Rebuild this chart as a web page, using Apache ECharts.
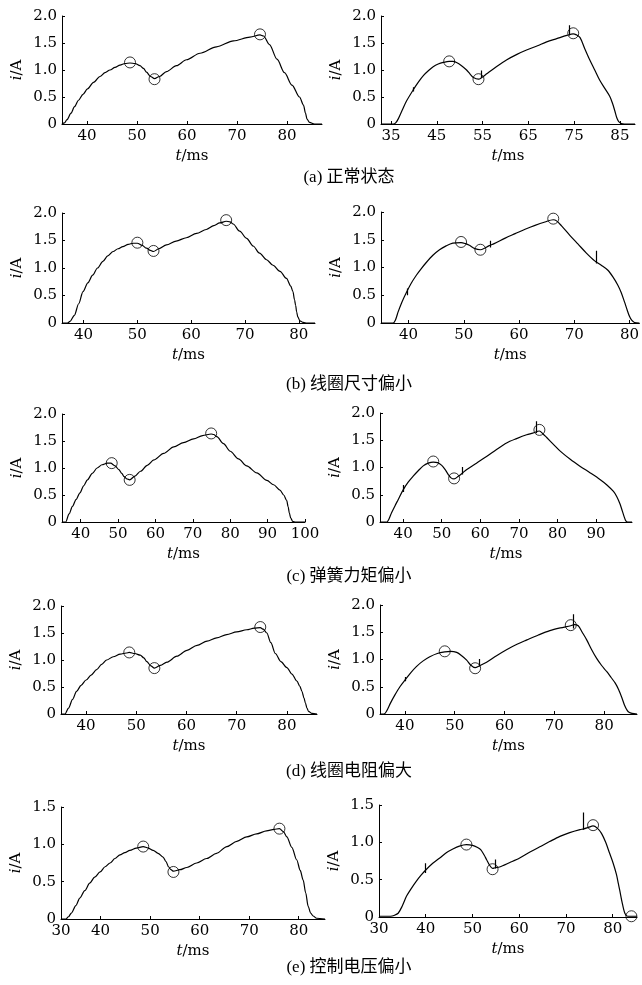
<!DOCTYPE html>
<html>
<head>
<meta charset="utf-8">
<script src="https://cdn.jsdelivr.net/npm/echarts@6/dist/echarts.min.js"></script>
<style>
html, body { margin: 0; padding: 0; background: #fff; }
#main { width: 642px; height: 985px; }
</style>
</head>
<body>
<div id="main"></div>
<script>
// (a) 正常状态
const curveA1 = [[35,0],[35.5,0.02],[36,0.08],[36.8,0.2],[37.5,0.32],[38.3,0.44],[39.2,0.55],[40.1,0.65],[41.3,0.77],[42.6,0.88],[43.6,0.95],[44.6,1.0],[45.6,1.05],[46.6,1.09],[47.6,1.12],[48.6,1.13],[49.6,1.12],[50.6,1.08],[51.3,1.03],[51.9,0.96],[52.7,0.88],[53.5,0.84],[54.5,0.88],[55.9,0.97],[57.9,1.08],[59.9,1.19],[62.6,1.31],[65.9,1.43],[69.3,1.54],[72.6,1.61],[74.6,1.65],[75.3,1.63],[76.5,1.47],[78,1.2],[79.5,0.95],[81,0.72],[82.5,0.5],[83.3,0.35],[83.7,0.2],[84,0.09],[84.5,0.03],[85.5,0],[87,0]];
const circlesA1 = [[48.6,1.14],[53.5,0.83],[74.6,1.66]];
const curveA2 = [[32.8,0],[35.5,0],[36,0.02],[36.6,0.1],[37.4,0.25],[38.4,0.43],[39.9,0.64],[41,0.78],[42.1,0.9],[43.2,0.99],[44.2,1.06],[45.3,1.11],[46.4,1.14],[47.7,1.16],[48.5,1.16],[49.3,1.14],[50.4,1.08],[51.5,1.0],[52.3,0.92],[53,0.86],[54.1,0.83],[54.8,0.86],[55.9,0.93],[58,1.06],[60.3,1.19],[62.5,1.29],[64.6,1.37],[67,1.45],[69,1.52],[71.2,1.58],[73.4,1.64],[74.8,1.67],[75.5,1.65],[76.3,1.6],[77.3,1.4],[78.4,1.19],[79.5,1.0],[80.6,0.81],[81.7,0.66],[82.8,0.51],[83.4,0.38],[83.9,0.24],[84.3,0.12],[84.7,0.05],[85.3,0.01],[86,0],[88.3,0]];
const circlesA2 = [[47.7,1.16],[54.1,0.83],[74.8,1.68]];
const spikesA2 = [[39.9,0.6,0.68],[54.8,0.85,0.99],[73.9,1.64,1.83]];
const ticksA1 = [40,50,60,70,80];
const ticksA2 = [35,45,55,65,75,85];

// (b) 线圈尺寸偏小
const curveB1 = [[36,0],[37,0],[37.5,0.03],[38.3,0.14],[39.1,0.35],[39.9,0.57],[40.8,0.73],[41.7,0.87],[42.6,1.0],[43.6,1.12],[44.5,1.22],[45.5,1.3],[46.4,1.35],[47.3,1.39],[48.3,1.43],[49.2,1.45],[50,1.45],[50.9,1.41],[51.7,1.36],[52.4,1.32],[53,1.3],[54,1.35],[55.4,1.42],[57.2,1.49],[59.1,1.55],[61,1.63],[62.8,1.7],[64.2,1.77],[65.3,1.82],[66.5,1.85],[67.2,1.84],[67.8,1.8],[69,1.67],[70.3,1.54],[71.5,1.4],[72.7,1.27],[74,1.15],[75.2,1.05],[76.5,0.94],[77.7,0.81],[78.5,0.67],[78.9,0.57],[79.2,0.42],[79.4,0.32],[79.6,0.2],[79.8,0.11],[80.2,0.04],[80.8,0.01],[81.5,0],[83,0]];
const circlesB1 = [[50,1.46],[53,1.31],[66.5,1.87]];
const curveB2 = [[35,0],[37.2,0],[37.6,0.05],[38.1,0.2],[38.8,0.38],[39.6,0.55],[40.5,0.72],[41.4,0.86],[42.3,0.98],[43.2,1.09],[44.4,1.22],[45.6,1.32],[46.8,1.39],[48,1.44],[49.5,1.45],[50.3,1.43],[51,1.4],[52,1.34],[53,1.32],[53.8,1.35],[54.5,1.39],[55.5,1.43],[57.5,1.53],[59.3,1.61],[61.1,1.69],[62.9,1.76],[64.7,1.82],[66.2,1.86],[66.8,1.84],[67.7,1.75],[69.2,1.58],[70.7,1.42],[72.2,1.26],[73.7,1.12],[74.9,1.04],[76.1,0.95],[77,0.83],[77.9,0.68],[78.5,0.55],[79.1,0.38],[79.6,0.23],[80,0.12],[80.4,0.05],[80.9,0.01],[81.8,0]];
const circlesB2 = [[49.5,1.46],[53,1.32],[66.2,1.88]];
const spikesB2 = [[39.8,0.5,0.62],[54.8,1.36,1.48],[74,1.07,1.3]];
const ticksB1 = [40,50,60,70,80];
const ticksB2 = [40,50,60,70,80];

// (c) 弹簧力矩偏小
const curveC1 = [[35,0],[36,0],[36.9,0.15],[37.8,0.29],[38.8,0.42],[39.8,0.54],[40.8,0.67],[41.8,0.78],[43.1,0.9],[44.4,1.0],[45.7,1.06],[47.1,1.09],[48,1.09],[49.2,1.04],[50.2,0.97],[51,0.9],[51.6,0.84],[52.3,0.8],[53.1,0.78],[54.5,0.85],[56,0.94],[57.8,1.05],[59.6,1.15],[62.2,1.27],[64.9,1.39],[67.5,1.47],[70.2,1.54],[72.6,1.6],[74.9,1.63],[75.6,1.62],[76.4,1.58],[78.2,1.45],[80,1.31],[82.2,1.17],[84.4,1.04],[87.1,0.91],[89.8,0.77],[91.6,0.69],[93.3,0.59],[94.3,0.5],[95.1,0.4],[95.5,0.28],[95.8,0.17],[96.2,0.07],[96.7,0.01],[97.5,0],[100,0]];
const circlesC1 = [[48.3,1.09],[53.1,0.78],[74.9,1.64]];
const curveC2 = [[34,0],[35.8,0],[36.3,0.05],[37,0.17],[37.9,0.3],[38.7,0.41],[40,0.59],[41.3,0.73],[42.6,0.84],[43.9,0.94],[45.2,1.03],[46.5,1.08],[47.8,1.1],[48.9,1.09],[50,1.04],[50.9,0.96],[51.7,0.87],[52.4,0.81],[53.2,0.79],[54.3,0.84],[55.4,0.9],[56.4,0.96],[59,1.08],[61.6,1.2],[64.2,1.33],[66.8,1.45],[69.4,1.53],[72,1.6],[73.6,1.63],[75.3,1.67],[76.2,1.62],[77.2,1.55],[79,1.42],[80.7,1.3],[83.3,1.15],[85.9,1.02],[88.5,0.9],[91,0.78],[92.8,0.68],[94.5,0.56],[95.4,0.46],[96.2,0.33],[96.8,0.2],[97.3,0.09],[97.7,0.02],[98.2,0],[99.3,0]];
const circlesC2 = [[47.8,1.11],[53.2,0.8],[75.3,1.69]];
const spikesC2 = [[40,0.55,0.68],[55.4,0.87,1.01],[74.6,1.63,1.85]];
const ticksC1 = [40,50,60,70,80,90,100];
const ticksC2 = [40,50,60,70,80,90];

// (d) 线圈电阻偏大
const curveD1 = [[35,0],[35.8,0],[36.5,0.11],[37.3,0.27],[38.1,0.42],[39,0.53],[40,0.63],[41,0.72],[42.1,0.82],[43.1,0.92],[44.1,1.0],[45.4,1.06],[46.8,1.11],[48,1.13],[48.6,1.14],[49.7,1.12],[50.8,1.09],[51.5,1.04],[52.1,0.97],[52.9,0.89],[53.6,0.85],[54.8,0.9],[56.1,0.96],[58.1,1.07],[60.1,1.18],[62.1,1.27],[64.1,1.35],[66,1.41],[68,1.47],[70,1.52],[72,1.56],[73.5,1.59],[74.7,1.6],[75.3,1.57],[76,1.5],[76.8,1.32],[77.7,1.12],[78.8,0.97],[80,0.86],[81,0.74],[82,0.61],[82.6,0.51],[83,0.42],[83.4,0.3],[83.7,0.2],[84,0.11],[84.3,0.05],[85,0.01],[86,0]];
const circlesD1 = [[48.6,1.14],[53.6,0.85],[74.7,1.61]];
const curveD2 = [[35,0],[35.8,0],[36.3,0.05],[37.1,0.2],[38,0.35],[39,0.5],[40,0.62],[41.2,0.76],[42.3,0.87],[43.6,0.97],[45,1.05],[46.5,1.11],[48,1.14],[49.2,1.15],[50.4,1.13],[51.4,1.07],[52.4,0.99],[53.2,0.9],[54.1,0.85],[54.9,0.88],[56.4,0.95],[58.4,1.07],[60.4,1.18],[62.5,1.28],[64.5,1.36],[66.8,1.45],[69.1,1.53],[71.2,1.58],[73.3,1.62],[74,1.64],[74.8,1.62],[75.6,1.5],[76.5,1.36],[77.5,1.18],[78.5,1.02],[79.5,0.89],[80.5,0.78],[81.4,0.67],[82.2,0.57],[82.9,0.45],[83.6,0.29],[84.1,0.16],[84.6,0.07],[85,0.03],[85.6,0.01],[86.6,0]];
const circlesD2 = [[48,1.15],[54.1,0.84],[73.3,1.63]];
const spikesD2 = [[40,0.6,0.68],[54.9,0.87,1.01],[73.8,1.57,1.83]];
const ticksD1 = [40,50,60,70,80];
const ticksD2 = [40,50,60,70,80];

// (e) 控制电压偏小
const curveE1 = [[32,0],[33,0],[33.5,0.03],[34.1,0.08],[35,0.18],[35.8,0.28],[36.8,0.38],[37.8,0.48],[38.8,0.56],[39.9,0.63],[40.9,0.7],[41.9,0.75],[42.9,0.81],[43.9,0.86],[44.9,0.89],[45.9,0.92],[47.2,0.95],[48.6,0.97],[49.6,0.95],[50.6,0.92],[51.6,0.88],[52.6,0.83],[53.2,0.77],[53.7,0.7],[54.2,0.66],[54.7,0.64],[56,0.66],[57.4,0.69],[59.4,0.75],[61.4,0.81],[63.4,0.88],[65.5,0.97],[67.5,1.04],[69.5,1.1],[71.5,1.14],[73.5,1.18],[75,1.2],[76.1,1.21],[76.9,1.17],[77.6,1.1],[78.6,0.96],[79.6,0.79],[80.3,0.65],[80.9,0.52],[81.4,0.35],[81.9,0.17],[82.4,0.08],[82.9,0.04],[83.6,0.01],[85.3,0]];
const circlesE1 = [[48.6,0.97],[54.7,0.63],[76.1,1.21]];
const curveE2 = [[30,0.01],[32.5,0.01],[33.2,0.02],[34.1,0.05],[35,0.15],[35.9,0.28],[37,0.39],[38,0.48],[39,0.56],[40,0.63],[41.5,0.72],[43,0.79],[44.4,0.86],[45.8,0.91],[47.2,0.95],[48.7,0.97],[50,0.96],[51.1,0.93],[51.8,0.9],[52.5,0.83],[53,0.77],[53.6,0.7],[54.3,0.65],[54.8,0.66],[55.8,0.67],[58,0.73],[60.1,0.79],[62.3,0.87],[64.4,0.94],[66.5,1.01],[68.7,1.08],[70.8,1.13],[73,1.17],[73.8,1.18],[74.8,1.2],[75.8,1.22],[76.7,1.19],[77.6,1.12],[78.5,1.0],[79.3,0.86],[80.1,0.72],[80.8,0.57],[81.2,0.45],[81.5,0.36],[82,0.2],[82.6,0.05],[83.2,0.01],[84,0.01],[85.2,0.01]];
const circlesE2 = [[48.7,0.97],[54.3,0.64],[75.8,1.23],[84,0.01]];
const spikesE2 = [[40,0.59,0.72],[54.8,0.65,0.77],[73.8,1.17,1.4]];
const ticksE1 = [40,50,60,70,80];
const labelsE1 = [32,40,50,60,70,80];
const labelTextE1 = ['30','40','50','60','70','80'];
const ticksE2 = [30,40,50,60,70,80];

const captions = ['(a) 正常状态','(b) 线圈尺寸偏小','(c) 弹簧力矩偏小','(d) 线圈电阻偏大','(e) 控制电压偏小'];
const captionY = [178, 385, 577, 772, 968];

// left column: measured (noisy) traces, right column: filtered traces
const panels = [
  {curve: curveA1, circles: circlesA1, spikes: null, grid: {left: 62, top: 16, width: 260, height: 108}, xMin: 35, xMax: 87, ticks: ticksA1, yMax: 2},
  {curve: curveA2, circles: circlesA2, spikes: spikesA2, grid: {left: 381, top: 16, width: 254, height: 108}, xMin: 32.8, xMax: 88.3, ticks: ticksA2, yMax: 2},
  {curve: curveB1, circles: circlesB1, spikes: null, grid: {left: 62, top: 213, width: 253, height: 110}, xMin: 36, xMax: 83, ticks: ticksB1, yMax: 2},
  {curve: curveB2, circles: circlesB2, spikes: spikesB2, grid: {left: 381, top: 212, width: 259, height: 111}, xMin: 35, xMax: 81.8, ticks: ticksB2, yMax: 2},
  {curve: curveC1, circles: circlesC1, spikes: null, grid: {left: 62, top: 414, width: 243, height: 108}, xMin: 35, xMax: 100, ticks: ticksC1, yMax: 2},
  {curve: curveC2, circles: circlesC2, spikes: spikesC2, grid: {left: 380, top: 413, width: 252, height: 109}, xMin: 34, xMax: 99.3, ticks: ticksC2, yMax: 2},
  {curve: curveD1, circles: circlesD1, spikes: null, grid: {left: 61, top: 606, width: 256, height: 108}, xMin: 35, xMax: 86, ticks: ticksD1, yMax: 2},
  {curve: curveD2, circles: circlesD2, spikes: spikesD2, grid: {left: 380, top: 605, width: 257, height: 109}, xMin: 35, xMax: 86.6, ticks: ticksD2, yMax: 2},
  {curve: curveE1, circles: circlesE1, spikes: null, grid: {left: 61, top: 807, width: 264, height: 112}, xMin: 32, xMax: 85.3, ticks: ticksE1, labels: labelsE1, labelText: labelTextE1, yMax: 1.5},
  {curve: curveE2, circles: circlesE2, spikes: spikesE2, grid: {left: 379, top: 805, width: 258, height: 112}, xMin: 30, xMax: 85.2, ticks: ticksE2, yMax: 1.5}
];

const numFont = 'DejaVu Serif';
const axisLineStyle = {color: '#000', width: 1};

const grids = [], xAxes = [], yAxes = [], series = [];
panels.forEach(function (p, k) {
  grids.push(Object.assign({containLabel: false}, p.grid));
  const labelVals = p.labels || p.ticks;
  xAxes.push({
    type: 'value', gridIndex: k, min: p.xMin, max: p.xMax,
    name: '{it|t}/ms', nameLocation: 'middle', nameGap: 25,
    nameTextStyle: {color: '#000', fontFamily: numFont, fontSize: 15,
      rich: {it: {fontStyle: 'italic', fontFamily: numFont, fontSize: 15, color: '#000'}}},
    axisLine: {show: true, lineStyle: axisLineStyle},
    axisTick: {show: true, inside: true, length: 3, customValues: p.ticks, lineStyle: axisLineStyle},
    axisLabel: {
      customValues: labelVals, margin: 5, color: '#000', fontFamily: numFont, fontSize: 15,
      formatter: function (v) {
        if (p.labelText) {
          const j = labelVals.indexOf(v);
          if (j >= 0) return p.labelText[j];
        }
        return String(v);
      }
    },
    splitLine: {show: false}
  });
  yAxes.push({
    type: 'value', gridIndex: k, min: 0, max: p.yMax, interval: 0.5,
    name: '{it|i}/A', nameLocation: 'middle', nameGap: 37,
    nameTextStyle: {color: '#000', fontFamily: numFont, fontSize: 15,
      rich: {it: {fontStyle: 'italic', fontFamily: numFont, fontSize: 15, color: '#000'}}},
    axisLine: {show: true, lineStyle: axisLineStyle},
    axisTick: {show: true, inside: true, length: 3, lineStyle: axisLineStyle},
    axisLabel: {margin: 5, color: '#000', fontFamily: numFont, fontSize: 15,
      formatter: function (v) { return v === 0 ? '0' : v.toFixed(1); }},
    splitLine: {show: false}
  });
  const isLeft = k % 2 === 0;
  series.push({
    type: 'line', xAxisIndex: k, yAxisIndex: k, data: p.curve,
    showSymbol: false, smooth: 0.3, smoothMonotone: isLeft ? 'x' : null, silent: true,
    lineStyle: {color: '#000', width: 1.2}
  });
  if (p.spikes) {
    series.push({
      type: 'lines', coordinateSystem: 'cartesian2d', xAxisIndex: k, yAxisIndex: k,
      silent: true, z: 3,
      data: p.spikes.map(function (s) { return {coords: [[s[0], s[1]], [s[0], s[2]]]}; }),
      lineStyle: {color: '#000', width: 1.2, opacity: 1}
    });
  }
  series.push({
    type: 'scatter', xAxisIndex: k, yAxisIndex: k, data: p.circles,
    symbol: 'circle', symbolSize: 11, silent: true, z: 4,
    itemStyle: {color: 'rgba(255,255,255,0)', borderColor: '#000', borderWidth: 1}
  });
});

const graphics = captions.map(function (c, r) {
  return {
    type: 'text', x: 349, y: captionY[r],
    style: {text: c, fill: '#000', fontSize: 17,
      fontFamily: '"Liberation Serif", "Noto Sans CJK SC"',
      align: 'center', verticalAlign: 'middle', textAlign: 'center', textVerticalAlign: 'middle'}
  };
});

const chart = echarts.init(document.getElementById('main'));
chart.setOption({
  animation: false,
  backgroundColor: '#fff',
  grid: grids,
  xAxis: xAxes,
  yAxis: yAxes,
  series: series,
  graphic: graphics
});
</script>
</body>
</html>
